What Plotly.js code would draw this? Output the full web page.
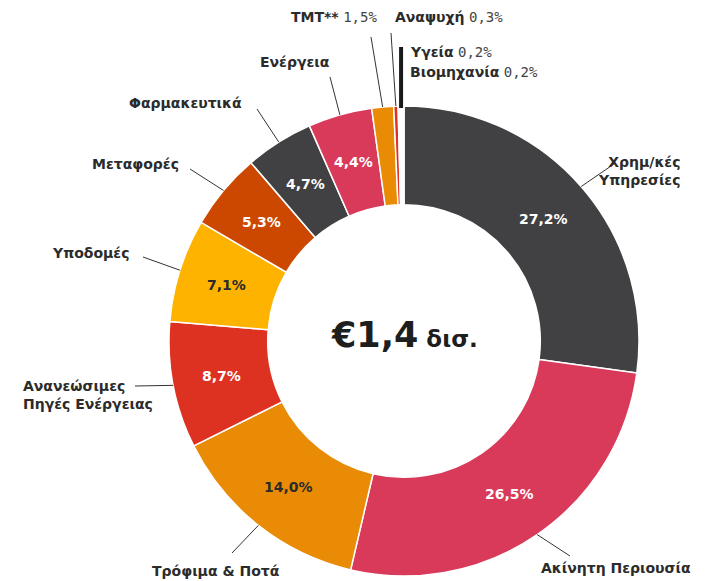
<!DOCTYPE html>
<html>
<head>
<meta charset="utf-8">
<script src="https://cdn.plot.ly/plotly-3.0.1.min.js"></script>
<style>html,body{margin:0;padding:0;background:#fff;}</style>
</head>
<body>
<div id="chart" style="width:707px;height:581px;"></div>
<script>
// ---- data ----
const categories = ["Χρημ/κές Υπηρεσίες", "Ακίνητη Περιουσία", "Τρόφιμα & Ποτά", "Ανανεώσιμες Πηγές Ενέργειας", "Υποδομές", "Μεταφορές", "Φαρμακευτικά", "Ενέργεια", "TMT**", "Αναψυχή", "Υγεία", "Βιομηχανία"];
const values = [27.2, 26.5, 14.0, 8.7, 7.1, 5.3, 4.7, 4.4, 1.5, 0.3, 0.2, 0.2];
const sliceColors = ["#414143", "#d93a5a", "#e98b05", "#dd3222", "#fdb300", "#cc4800", "#414143", "#d93a5a", "#e98b05", "#dd3222", "#ffffff", "#ffffff"];
const insideTextColors = ["#fff", "#fff", "#2b2b2b", "#fff", "#2b2b2b", "#fff", "#fff", "#fff"];
const centerLabel = "€1,4";
const centerUnit = "δισ.";

// ---- layout geometry (pixels) ----
const W = 707, H = 581;
const cx = 404, cy = 341, R = 235, holeFrac = 0.58;
const fmt = v => v.toFixed(1).replace('.', ',') + '%';
const px = x => x / W;
const py = y => 1 - y / H;

// outside label placement: [category index, text html, x, y, xanchor, align, line end x, line end y]
const outside = [
  [0, "<b>Χρημ/κές<br>Υπηρεσίες</b>", 682, 171, "right", "right", 614, 164],
  [1, "<b>Ακίνητη Περιουσία</b>", 616, 568, "center", "center", 570, 556],
  [2, "<b>Τρόφιμα & Ποτά</b>", 216, 571, "center", "center", 232, 553],
  [3, "<b>Ανανεώσιμες<br>Πηγές Ενέργειας</b>", 21, 395, "left", "left", 135, 386],
  [4, "<b>Υποδομές</b>", 131, 253, "right", "right", 143, 257],
  [5, "<b>Μεταφορές</b>", 181, 164, "right", "right", 190, 169],
  [6, "<b>Φαρμακευτικά</b>", 244, 103, "right", "right", 257, 109],
  [7, "<b>Ενέργεια</b>", 332, 62, "right", "right", 330, 77],
  [8, "TMT", 379, 17, "right", "left", 371, 37],
  [9, "ANA", 393, 17, "left", "left", 391, 33]
];

const cum = [];
let s = 0;
const total = values.reduce((a, b) => a + b, 0);
values.forEach(v => { cum.push(s); s += v; });
const midAngle = i => (cum[i] + values[i] / 2) / total * 2 * Math.PI;
const pointAt = (ang, r) => [cx + r * Math.sin(ang), cy - r * Math.cos(ang)];

const labelFont = {family: "DejaVu Sans", size: 14, color: "#2b2b2b"};
const monoStyle = "font-family:'DejaVu Sans Mono';font-weight:normal;color:#444";

const annotations = [];
const shapes = [];

// inside percent labels
for (let i = 0; i < 8; i++) {
  const [x, y] = pointAt(midAngle(i), R * (1 + holeFrac) / 2);
  annotations.push({
    x: px(x), y: py(y), xref: "paper", yref: "paper", showarrow: false,
    text: "<b>" + fmt(values[i]) + "</b>",
    font: {family: "DejaVu Sans", size: 14, color: insideTextColors[i]},
    xanchor: "center", yanchor: "middle"
  });
}

// outside labels and leader lines
outside.forEach(o => {
  const [i, txt, x, y, xa, al, lx, ly] = o;
  let text = txt;
  if (txt === "TMT") text = "<b>" + categories[8] + "</b> <span style=\"" + monoStyle + "\">" + fmt(values[8]) + "</span>";
  if (txt === "ANA") text = "<b>" + categories[9] + "</b> <span style=\"" + monoStyle + "\">" + fmt(values[9]) + "</span>";
  annotations.push({
    x: px(x), y: py(y), xref: "paper", yref: "paper", showarrow: false,
    text: text, font: labelFont, xanchor: xa, yanchor: "middle", align: al
  });
  const [sx, sy] = pointAt(midAngle(i), R);
  shapes.push({type: "line", xref: "paper", yref: "paper",
    x0: px(sx), y0: py(sy), x1: px(lx), y1: py(ly),
    line: {color: "#333", width: 1}});
});

// Υγεία & Βιομηχανία
[10, 11].forEach((i, k) => {
  annotations.push({
    x: px(408), y: py(52 + 20 * k), xref: "paper", yref: "paper", showarrow: false,
    text: "<b>" + categories[i] + "</b> <span style=\"" + monoStyle + "\">" + fmt(values[i]) + "</span>",
    font: labelFont, xanchor: "left", yanchor: "middle", align: "left"
  });
});
{
  const ang = (cum[10] + (values[10] + values[11]) / 2) / total * 2 * Math.PI;
  const [sx, sy] = pointAt(ang, R - 2);
  shapes.push({type: "line", xref: "paper", yref: "paper",
    x0: px(sx), y0: py(sy), x1: px(sx), y1: py(47),
    line: {color: "#1a1a1a", width: 4}});
}

// center text
annotations.push({
  x: px(cx), y: py(cy - 6), xref: "paper", yref: "paper", showarrow: false,
  text: "<b><span style=\"font-size:35px\">" + centerLabel + "</span> " + centerUnit + "</b>",
  font: {family: "DejaVu Sans", size: 23, color: "#1e1e1e"},
  xanchor: "center", yanchor: "middle"
});

const trace = {
  type: "pie",
  labels: categories,
  values: values,
  sort: false,
  direction: "clockwise",
  rotation: 0,
  hole: holeFrac,
  textinfo: "none",
  hoverinfo: "label+percent",
  marker: {colors: sliceColors, line: {color: "#ffffff", width: 1.5}},
  domain: {x: [px(cx - R), px(cx + R)], y: [py(cy + R), py(cy - R)]},
  showlegend: false
};

const layout = {
  width: W, height: H,
  margin: {l: 0, r: 0, t: 0, b: 0},
  paper_bgcolor: "#ffffff",
  showlegend: false,
  annotations: annotations,
  shapes: shapes
};

Plotly.newPlot("chart", [trace], layout, {displayModeBar: false, staticPlot: true});
</script>
</body>
</html>
